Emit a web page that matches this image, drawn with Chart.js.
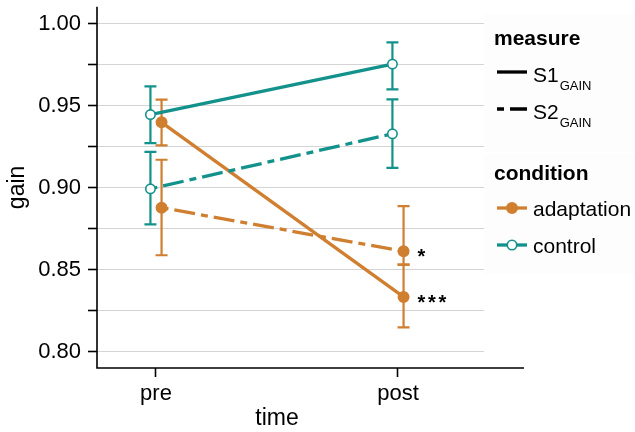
<!DOCTYPE html>
<html>
<head>
<meta charset="utf-8">
<script src="https://cdn.jsdelivr.net/npm/chart.js@4.4.1/dist/chart.umd.min.js"></script>
<style>
  html, body { margin: 0; padding: 0; background: #ffffff; }
  #wrap { width: 635px; height: 432px; position: relative; }
</style>
</head>
<body>
<div id="wrap"><canvas id="c" width="635" height="432"></canvas></div>
<script>
// ---- data ----
const timeLabels = ['pre', 'post'];
const timeValues = [0, 1];
const yTickLabels = ['0.80', '0.85', '0.90', '0.95', '1.00'];

const s1Adaptation     = [0.9398, 0.8334];
const s1AdaptationLow  = [0.9257, 0.8148];
const s1AdaptationHigh = [0.9536, 0.8531];
const s1AdaptationSig  = ['', '***'];

const s1Control     = [0.9445, 0.9753];
const s1ControlLow  = [0.9271, 0.9599];
const s1ControlHigh = [0.9617, 0.9885];

const s2Adaptation     = [0.8878, 0.8612];
const s2AdaptationLow  = [0.8588, 0.8531];
const s2AdaptationHigh = [0.9170, 0.8888];
const s2AdaptationSig  = ['', '*'];

const s2Control     = [0.8993, 0.9328];
const s2ControlLow  = [0.8776, 0.9121];
const s2ControlHigh = [0.9218, 0.9538];

const measureLabels = ['S1', 'S2'];
const measureSub = 'GAIN';
const conditionLabels = ['adaptation', 'control'];

// ---- styling ----
const ORANGE = '#cf7f2f';
const TEAL = '#13918b';
const FONT = "'Liberation Sans', Arial, Helvetica, sans-serif";
const DODGE = { adaptation: 0.023, control: -0.023 };
const TWODASH = [7, 6, 21, 6];

function pts(vals, cond) {
  return vals.map((v, i) => ({ x: timeValues[i] + DODGE[cond], y: v }));
}

function makeSet(label, vals, low, high, cond, dashed, sig) {
  const col = cond === 'adaptation' ? ORANGE : TEAL;
  return {
    label: label,
    data: pts(vals, cond),
    errLow: low,
    errHigh: high,
    sig: sig || null,
    borderColor: col,
    borderWidth: 3.3,
    borderDash: dashed ? TWODASH : [],
    pointRadius: cond === 'adaptation' ? 5.2 : 4.7,
    pointHoverRadius: cond === 'adaptation' ? 5.2 : 4.7,
    pointBorderWidth: 1.6,
    pointBorderColor: col,
    pointBackgroundColor: cond === 'adaptation' ? col : '#ffffff',
    fill: false,
    tension: 0
  };
}

const datasets = [
  makeSet('S2 control', s2Control, s2ControlLow, s2ControlHigh, 'control', true),
  makeSet('S2 adaptation', s2Adaptation, s2AdaptationLow, s2AdaptationHigh, 'adaptation', true, s2AdaptationSig),
  makeSet('S1 control', s1Control, s1ControlLow, s1ControlHigh, 'control', false),
  makeSet('S1 adaptation', s1Adaptation, s1AdaptationLow, s1AdaptationHigh, 'adaptation', false, s1AdaptationSig)
];

const errorBarPlugin = {
  id: 'errorBars',
  beforeDatasetsDraw(chart) {
    const ctx = chart.ctx;
    const xs = chart.scales.x, ys = chart.scales.y;
    chart.data.datasets.forEach((ds) => {
      if (!ds.errLow) return;
      ctx.save();
      ctx.strokeStyle = ds.borderColor;
      ctx.lineWidth = 2.2;
      ctx.setLineDash([]);
      ds.data.forEach((p, j) => {
        const x = xs.getPixelForValue(p.x);
        const y1 = ys.getPixelForValue(ds.errLow[j]);
        const y2 = ys.getPixelForValue(ds.errHigh[j]);
        ctx.beginPath();
        ctx.moveTo(x, y1); ctx.lineTo(x, y2);
        ctx.moveTo(x - 6, y1); ctx.lineTo(x + 6, y1);
        ctx.moveTo(x - 6, y2); ctx.lineTo(x + 6, y2);
        ctx.stroke();
      });
      ctx.restore();
    });
  }
};

const annotPlugin = {
  id: 'annot',
  afterDatasetsDraw(chart) {
    const ctx = chart.ctx;
    const xs = chart.scales.x, ys = chart.scales.y;
    ctx.save();
    ctx.fillStyle = '#000';
    ctx.font = 'bold 20px ' + FONT;
    ctx.textBaseline = 'alphabetic';
    ctx.textAlign = 'left';
    chart.data.datasets.forEach((ds) => {
      if (!ds.sig) return;
      ds.data.forEach((p, j) => {
        const s = ds.sig[j];
        if (!s) return;
        const x = xs.getPixelForValue(p.x) + 14;
        const y = ys.getPixelForValue(p.y) + 12;
        for (let k = 0; k < s.length; k++) ctx.fillText(s[k], x + k * 10.5, y);
      });
    });
    ctx.restore();
  }
};

const axesPlugin = {
  id: 'axesLines',
  afterDraw(chart) {
    const ctx = chart.ctx;
    const a = chart.chartArea;
    const xs = chart.scales.x;
    ctx.save();
    ctx.strokeStyle = '#000';
    ctx.lineWidth = 1.6;
    ctx.beginPath();
    ctx.moveTo(a.left, a.top);
    ctx.lineTo(a.left, a.bottom);
    ctx.lineTo(a.right + 40, a.bottom);
    ctx.stroke();
    // x axis title centered between the time points
    const mid = (xs.getPixelForValue(timeValues[0]) + xs.getPixelForValue(timeValues[1])) / 2;
    ctx.fillStyle = '#000';
    ctx.font = '23px ' + FONT;
    ctx.textAlign = 'center';
    ctx.textBaseline = 'alphabetic';
    ctx.fillText('time', mid, a.bottom + 57);
    ctx.restore();
  }
};

const legendPlugin = {
  id: 'customLegend',
  afterDraw(chart) {
    const ctx = chart.ctx;
    const a = chart.chartArea;
    const L = a.right;
    const W = chart.width - L;
    ctx.save();
    ctx.fillStyle = '#fdfdfd';
    ctx.fillRect(L, 14, W, 138);
    ctx.fillRect(L, 154, W, 120);

    const kx0 = L + 13, kx1 = L + 43, tx = L + 49;
    ctx.fillStyle = '#000';
    ctx.textAlign = 'left';
    ctx.textBaseline = 'alphabetic';
    ctx.font = 'bold 21px ' + FONT;
    ctx.fillText('measure', L + 10, 45);
    ctx.fillText('condition', L + 10, 180);

    // measure keys
    const mY = [72, 109];
    measureLabels.forEach((lab, i) => {
      ctx.strokeStyle = '#000';
      ctx.lineWidth = 3.3;
      ctx.setLineDash(i === 1 ? TWODASH : []);
      ctx.beginPath();
      ctx.moveTo(kx0, mY[i]); ctx.lineTo(kx1, mY[i]);
      ctx.stroke();
      ctx.setLineDash([]);
      ctx.font = '21px ' + FONT;
      ctx.fillText(lab, tx, mY[i] + 10);
      const w = ctx.measureText(lab).width;
      ctx.font = '13px ' + FONT;
      ctx.fillText(measureSub, tx + w + 1, mY[i] + 18);
    });

    // condition keys
    const cY = [208, 245];
    const cCol = [ORANGE, TEAL];
    conditionLabels.forEach((lab, i) => {
      ctx.strokeStyle = cCol[i];
      ctx.lineWidth = 3.3;
      ctx.setLineDash([]);
      ctx.beginPath();
      ctx.moveTo(kx0, cY[i]); ctx.lineTo(kx1, cY[i]);
      ctx.stroke();
      ctx.beginPath();
      ctx.arc((kx0 + kx1) / 2, cY[i], i === 0 ? 5.2 : 4.7, 0, Math.PI * 2);
      ctx.fillStyle = i === 0 ? cCol[i] : '#fff';
      ctx.fill();
      ctx.lineWidth = 1.6;
      ctx.stroke();
      ctx.fillStyle = '#000';
      ctx.font = '21px ' + FONT;
      ctx.fillText(lab, tx, cY[i] + 7.5);
    });
    ctx.restore();
  }
};

new Chart(document.getElementById('c'), {
  type: 'line',
  data: { datasets: datasets },
  plugins: [errorBarPlugin, annotPlugin, axesPlugin, legendPlugin],
  options: {
    responsive: false,
    devicePixelRatio: 1,
    animation: false,
    layout: { padding: { left: 0, right: 151, top: 6, bottom: 0 } },
    plugins: { legend: { display: false }, tooltip: { enabled: false } },
    scales: {
      x: {
        type: 'linear',
        min: -0.2438,
        max: 1.3554,
        afterBuildTicks(scale) { scale.ticks = timeValues.map(v => ({ value: v })); },
        afterFit(scale) { scale.height = 64; scale.paddingLeft = 0; scale.paddingRight = 0; },
        ticks: {
          color: '#000',
          font: { family: FONT, size: 22 },
          padding: 4,
          maxRotation: 0,
          callback(v) { const i = timeValues.indexOf(v); return i >= 0 ? timeLabels[i] : ''; }
        },
        grid: { drawOnChartArea: false, drawTicks: true, tickLength: 9, tickColor: '#000', tickWidth: 1.6, color: 'rgba(0,0,0,0)' },
        border: { display: false },
        title: { display: false }
      },
      y: {
        type: 'linear',
        min: 0.7901,
        max: 1.0102,
        afterBuildTicks(scale) {
          const t = [];
          for (let k = 0; k <= 8; k++) t.push({ value: 0.80 + k * 0.025 });
          scale.ticks = t;
        },
        afterFit(scale) { scale.width = 97; scale.paddingTop = 0; scale.paddingBottom = 0; },
        ticks: {
          color: '#000',
          font: { family: FONT, size: 22 },
          padding: 7,
          autoSkip: false,
          callback(v) {
            const k = Math.round((v - 0.80) / 0.025);
            return k % 2 === 0 ? yTickLabels[k / 2] : '';
          }
        },
        grid: { color: '#d4d4d4', lineWidth: 1, tickLength: 9, tickColor: '#000', tickWidth: 1.6 },
        border: { display: false },
        title: { display: true, text: 'gain', color: '#000', font: { family: FONT, size: 23 }, padding: { top: 4, bottom: 0 } }
      }
    }
  }
});
</script>
</body>
</html>
